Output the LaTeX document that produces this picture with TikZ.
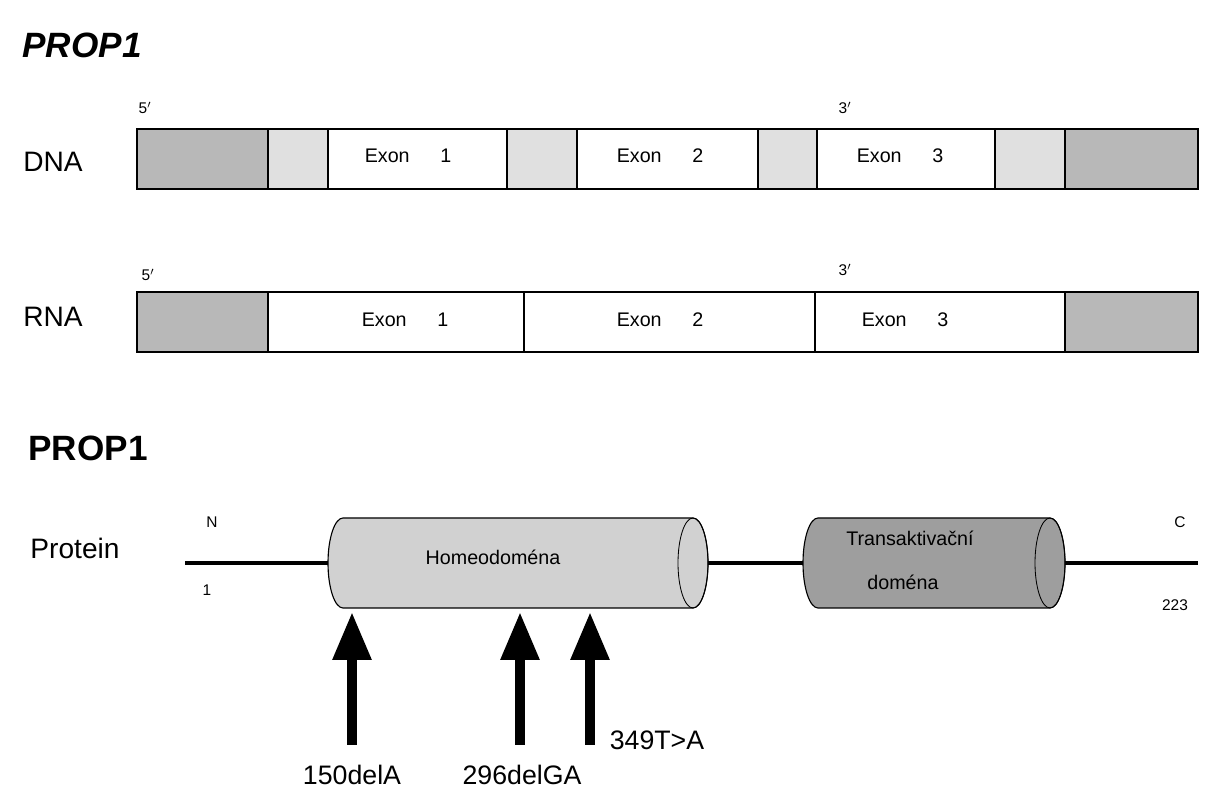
\documentclass[tikz,border=0pt]{standalone}
\usepackage{fontspec}
\setmainfont{Liberation Sans}
\usetikzlibrary{arrows.meta}
\definecolor{darkseg}{gray}{0.72}
\definecolor{lightseg}{gray}{0.88}
\definecolor{cylA}{gray}{0.82}
\definecolor{cylB}{gray}{0.62}
\tikzset{
  seg/.style={draw=black, line width=1pt},
  exonlabel/.style={font=\fontsize{14}{16}\selectfont},
  sidelabel/.style={font=\fontsize{20}{23}\selectfont},
  small/.style={font=\fontsize{11}{13}\selectfont},
  mutarrow/.style={line width=7pt, -{Triangle[width=26pt,length=34pt]}},
  mutlabel/.style={font=\fontsize{19}{22}\selectfont}
}
\begin{document}
\begin{tikzpicture}[x=0.025cm, y=0.025cm]
        \useasboundingbox (0,0) rectangle (1216,800);
        % Titles
        \node[font=\bfseries\itshape\fontsize{25}{28}\selectfont] (titleA) at (82,755) {PROP1};
        \node[font=\bfseries\fontsize{25}{28}\selectfont] (titleB) at (88,352) {PROP1};
        % DNA strip
        \foreach \xa/\xb/\col in {137/268/darkseg, 268/328/lightseg, 328/507/white, 507/577/lightseg,
                                  577/758/white, 758/817/lightseg, 817/995/white, 995/1065/lightseg, 1065/1198/darkseg} {
            \filldraw[seg, fill=\col] (\xa,611) rectangle (\xb,671);
        }
        \node[exonlabel] (dnaex1) at (408,644) {Exon\quad\ \ 1};
        \node[exonlabel] (dnaex2) at (660,644) {Exon\quad\ \ 2};
        \node[exonlabel] (dnaex3) at (900,644) {Exon\quad\ \ 3};
        \node[sidelabel] (dna) at (53,638) {DNA};
        \node[small] (dnafive) at (145,692) {5$'$};
        \node[small] (dnathree) at (845,692) {3$'$};
        % RNA strip
        \foreach \xa/\xb/\col in {137/268/darkseg, 268/524/white, 524/815/white, 815/1065/white, 1065/1198/darkseg} {
            \filldraw[seg, fill=\col] (\xa,448) rectangle (\xb,508);
        }
        \node[exonlabel] (rnaex1) at (405,480) {Exon\quad\ \ 1};
        \node[exonlabel] (rnaex2) at (660,480) {Exon\quad\ \ 2};
        \node[exonlabel] (rnaex3) at (905,480) {Exon\quad\ \ 3};
        \node[sidelabel] (rna) at (53,483) {RNA};
        \node[small] (rnafive) at (148,525) {5$'$};
        \node[small] (rnathree) at (845,530) {3$'$};
        % Protein
        \node[sidelabel] (protein) at (75,252) {Protein};
        \draw[line width=3.5pt] (185,237) -- (1198,237);
        \node[small] (nterm) at (212,278) {N};
        \node[small] (cterm) at (1180,278) {C};
        \node[small] (first) at (207,210) {1};
        \node[small] (last) at (1175,195) {223};
        % Homeodomain cylinder
        \filldraw[draw=black, fill=cylA, line width=0.8pt] (343,282) -- (693,282) arc (90:-90:15 and 45) -- (343,192) arc (270:90:15 and 45) -- cycle;
        \draw[line width=0.6pt] (693,237) ellipse (15 and 45);
        \node[exonlabel] (homeo) at (493,243) {Homeodoména};
        % Transactivation cylinder
        \filldraw[draw=black, fill=cylB, line width=0.8pt] (818,282) -- (1050,282) arc (90:-90:15 and 45) -- (818,192) arc (270:90:15 and 45) -- cycle;
        \draw[line width=0.6pt] (1050,237) ellipse (15 and 45);
        \node[exonlabel] (transA) at (910,262) {Transaktivační};
        \node[exonlabel] (transB) at (903,218) {doména};
        % Mutations
        \foreach \x/\name in {352/m1, 520/m2, 590/m3} {
            \coordinate (\name base) at (\x,55);
            \coordinate (\name tip) at (\x,188);
            \draw[mutarrow] (\name base) -- (\name tip);
        }
        \node[mutlabel] (m1label) at (352,25) {150delA};
        \node[mutlabel] (m2label) at (522,25) {296delGA};
        \node[mutlabel] (m3label) at (657,60) {349T>A};
\end{tikzpicture}
\end{document}
